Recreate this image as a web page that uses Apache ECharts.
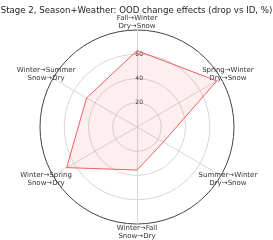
<!DOCTYPE html>
<html><head><meta charset="utf-8">
<script src="https://cdn.jsdelivr.net/npm/echarts@6/dist/echarts.min.js"></script>
<style>html,body{margin:0;padding:0;background:#fff}#c{width:273px;height:240px}</style>
</head><body><div id="c"></div>
<script>
const titleText = 'Stage 2, Season+Weather: OOD change effects (drop vs ID, %)';
const categories = [
  'Fall→Winter\nDry→Snow',
  'Spring→Winter\nDry→Snow',
  'Summer→Winter\nDry→Snow',
  'Winter→Fall\nSnow→Dry',
  'Winter→Spring\nSnow→Dry',
  'Winter→Summer\nSnow→Dry'
];
const values = [63, 76, 25, 35.5, 67, 48];
const rMax = 80;
const tickLabels = [20, 40, 60];

// ECharts radar runs counter-clockwise; reorder so the chart reads clockwise
const order = [0].concat(categories.map((_, i) => i).slice(1).reverse());
const catsCW = order.map(i => categories[i]);
const valsCW = order.map(i => values[i]);

const chart = echarts.init(document.getElementById('c'), null, {renderer: 'canvas'});
const indicator = catsCW.map((n, i) => {
  const o = {name: n, max: rMax, min: 0};
  if (i === 0) o.axisLabel = {show: true};
  return o;
});
chart.setOption({
  animation: false,
  title: {
    text: titleText, left: 'center', top: 1,
    textStyle: {fontFamily: 'DejaVu Sans', fontSize: 8.6, fontWeight: 'normal', color: '#222'}
  },
  radar: {
    center: [137, 127], radius: 97, shape: 'circle', splitNumber: 4,
    startAngle: 90,
    indicator: indicator,
    axisName: {
      color: '#333', fontFamily: 'DejaVu Sans', fontSize: 7, lineHeight: 8,
      align: 'center', verticalAlign: 'middle'
    },
    nameGap: 8,
    axisLine: {lineStyle: {color: '#d6d6d6', width: 1}},
    splitLine: {lineStyle: {color: ['#d6d6d6', '#d6d6d6', '#d6d6d6', '#d6d6d6', '#444'], width: 1}},
    splitArea: {show: false},
    axisTick: {show: false},
    axisLabel: {
      show: false, color: '#333', fontFamily: 'DejaVu Sans', fontSize: 6, margin: -6,
      formatter: v => tickLabels.indexOf(v) >= 0 ? String(v) : ''
    }
  },
  series: [{
    type: 'radar',
    symbol: 'none',
    lineStyle: {color: '#ee5f5f', width: 1},
    areaStyle: {color: 'rgba(238,95,95,0.14)'},
    data: [{value: valsCW}]
  }]
});
</script></body></html>
